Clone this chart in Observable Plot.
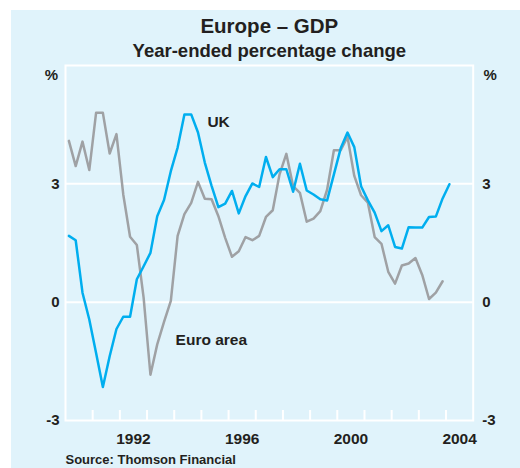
<!DOCTYPE html>
<html><head><meta charset="utf-8">
<script src="https://cdn.jsdelivr.net/npm/d3@7"></script>
<script src="https://cdn.jsdelivr.net/npm/@observablehq/plot@0.6"></script>
<style>
body{margin:0;background:#fff;}
#wrap{position:absolute;left:11px;top:10px;width:509px;height:458px;background:#e0f3fb;overflow:hidden;}
</style></head><body><div id="wrap"></div>
<script>
// Quarterly, year-ended % change, starting 1990 Q1
const startYear = 1990;
const ukGrowth = [1.68,1.57,0.24,-0.44,-1.29,-2.15,-1.37,-0.68,-0.37,-0.37,0.58,0.91,1.25,2.18,2.59,3.32,3.92,4.76,4.76,4.30,3.54,2.95,2.41,2.50,2.82,2.25,2.69,3.01,2.92,3.68,3.17,3.37,3.37,2.80,3.51,2.83,2.73,2.61,2.58,3.24,3.90,4.30,3.93,2.94,2.58,2.27,1.80,1.95,1.40,1.36,1.90,1.89,1.89,2.16,2.17,2.63,2.99];
const euroGrowth = [4.09,3.45,4.07,3.35,4.80,4.80,3.77,4.26,2.73,1.66,1.45,0.11,-1.84,-1.07,-0.50,0.03,1.68,2.23,2.52,3.05,2.62,2.61,2.18,1.63,1.15,1.29,1.65,1.57,1.68,2.16,2.33,3.24,3.76,2.94,2.77,2.04,2.12,2.31,2.85,3.85,3.85,4.19,3.20,2.71,2.52,1.65,1.48,0.77,0.47,0.93,0.98,1.12,0.69,0.08,0.24,0.53];
const yTicks = [-3, 0, 3];
const yGrid = [0, 3];
const yearTicks = [1991,1992,1993,1994,1995,1996,1997,1998,1999,2000,2001,2002,2003,2004];
const yearLabels = [1992, 1996, 2000, 2004];
const seriesLabels = [
  {name: "UK", x: 1995.22, y: 4.45},
  {name: "Euro area", x: 1994.05, y: -1.08}
];
const title = "Europe – GDP";
const subtitle = "Year-ended percentage change";
const source = "Source: Thomson Financial";

const qDate = i => startYear + (i + 0.5) / 4;
const uk = ukGrowth.map((v, i) => ({t: qDate(i), v}));
const euro = euroGrowth.map((v, i) => ({t: qDate(i), v}));

const ink = "#231f20";
const font = "'Liberation Sans', Arial, Helvetica, sans-serif";

const chart = Plot.plot({
  width: 509,
  height: 458,
  marginLeft: 54,
  marginRight: 47.3,
  marginTop: 55,
  marginBottom: 48,
  style: {background: "transparent", fontFamily: font, color: ink, overflow: "visible"},
  x: {type: "linear", domain: [1990, 2005]},
  y: {domain: [-3, 6]},
  marks: [
    Plot.ruleY(yGrid, {stroke: "white", strokeWidth: 2}),
    Plot.tickX(yearTicks, {x: d => d, stroke: "white", strokeWidth: 2, insetTop: 345}),
    Plot.frame({stroke: "white", strokeWidth: 2}),
    Plot.line(euro, {x: "t", y: "v", stroke: "#9fa1a4", strokeWidth: 2.5}),
    Plot.line(uk, {x: "t", y: "v", stroke: "#00aeef", strokeWidth: 2.5}),
    Plot.axisY(yTicks, {anchor: "left", tickSize: 0, tickPadding: 6, tickFormat: d => String(d), fontSize: 15, fontWeight: "bold", label: null}),
    Plot.axisY(yTicks, {anchor: "right", tickSize: 0, tickPadding: 9, tickFormat: d => String(d), fontSize: 15, fontWeight: "bold", label: null}),
    Plot.axisX(yearLabels.map(y => y + 0.5), {anchor: "bottom", tickSize: 0, tickPadding: 12, tickFormat: d => String(Math.floor(d)), fontSize: 15.5, fontWeight: "bold", label: null}),
    Plot.text(seriesLabels, {x: "x", y: "y", text: "name", textAnchor: "start", lineAnchor: "bottom", fontSize: 15.5, fontWeight: "bold", fill: ink}),
    Plot.text(["%"], {frameAnchor: "top-left", dx: -14, dy: 14, lineAnchor: "bottom", textAnchor: "middle", fontSize: 15, fontWeight: "bold", fill: ink}),
    Plot.text(["%"], {frameAnchor: "top-right", dx: 17, dy: 14, lineAnchor: "bottom", textAnchor: "middle", fontSize: 15, fontWeight: "bold", fill: ink}),
    Plot.text([title], {frameAnchor: "top", dy: -33, lineAnchor: "bottom", fontSize: 20.5, fontWeight: "bold", fill: ink}),
    Plot.text([subtitle], {frameAnchor: "top", dy: -9, lineAnchor: "bottom", fontSize: 18.5, fontWeight: "bold", fill: ink}),
    Plot.text([source], {frameAnchor: "bottom-left", dx: 0, dy: 43, lineAnchor: "bottom", textAnchor: "start", fontSize: 13, fontWeight: "bold", fill: ink})
  ]
});
document.getElementById("wrap").appendChild(chart);
</script></body></html>
